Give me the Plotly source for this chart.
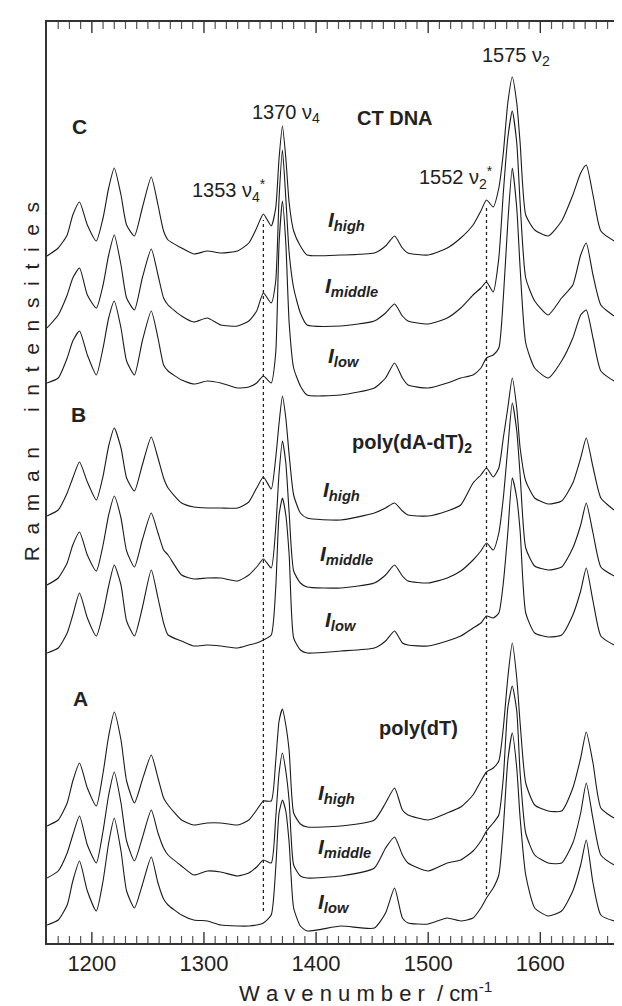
import plotly.graph_objects as go

# Common wavenumber grid (cm^-1)
wavenumber = [1160, 1170, 1178, 1183, 1189,
              1196, 1204, 1210, 1215, 1220,
              1226, 1231, 1238, 1245, 1253,
              1259, 1264, 1268, 1280, 1291,
              1303, 1315, 1330, 1340, 1347,
              1353, 1360, 1364, 1367, 1370,
              1373, 1376, 1380, 1386, 1392,
              1422, 1452, 1462, 1470, 1477,
              1482, 1500, 1517, 1529, 1540,
              1547, 1552, 1558, 1563, 1567,
              1571, 1575, 1579, 1582, 1587,
              1595, 1607, 1619, 1629, 1636,
              1641, 1647, 1654, 1666, 1680]

# Stacked Raman intensities (arbitrary units, offsets included)
ct_high = [687, 695, 708, 728, 741,
           718, 702, 725, 755, 775,
           748, 718, 707, 735, 766,
           738, 712, 703, 695, 689,
           692, 690, 692, 700, 715,
           729, 717, 735, 785, 817,
           785, 740, 712, 697, 688,
           688, 690, 697, 707, 695,
           690, 688, 695, 705, 718,
           732, 743, 736, 755, 790,
           840, 866, 840, 800, 728,
           713, 707, 722, 748, 770,
           778, 748, 712, 702, 695]
ct_middle = [615, 628, 648, 665, 675,
             648, 635, 658, 688, 708,
             678, 645, 633, 665, 694,
             668, 645, 638, 627, 621,
             625, 618, 617, 622, 632,
             650, 640, 662, 745, 793,
             745, 690, 655, 630, 618,
             617, 622, 630, 639, 627,
             622, 619, 625, 635, 648,
             655, 661, 651, 685, 750,
             805, 832, 800, 740, 665,
             642, 628, 645, 658, 688,
             700, 668, 638, 627, 622]
ct_low = [560, 565, 585, 602, 612,
          588, 568, 595, 625, 642,
          615, 582, 568, 602, 632,
          605, 578, 572, 563, 559,
          562, 560, 555, 556, 560,
          567, 560, 590, 700, 742,
          700, 620, 575, 557, 548,
          548, 555, 565, 580, 565,
          558, 555, 560, 565, 568,
          575, 585, 588, 595, 645,
          720, 775, 735, 675, 600,
          575, 565, 582, 605, 628,
          633, 605, 572, 562, 558]
at_high = [427, 433, 450, 465, 481,
           461, 443, 467, 497, 515,
           495, 465, 452, 478, 506,
           485, 465, 455, 440, 436,
           435, 435, 435, 441, 455,
           466, 454, 485, 520, 547,
           525, 488, 448, 430, 425,
           423, 430, 435, 440, 432,
           428, 427, 432, 438, 460,
           468, 475, 466, 475, 505,
           535, 565, 535, 495, 462,
           445, 439, 442, 460, 485,
           505, 476, 445, 433, 427]
at_middle = [358, 365, 380, 398, 411,
             388, 372, 398, 428, 447,
             425, 392, 376, 403, 430,
             410, 393, 388, 368, 364,
             365, 365, 362, 368, 376,
             384, 375, 415, 470, 502,
             480, 430, 372, 360, 356,
             355, 360, 368, 378, 367,
             362, 360, 365, 372, 383,
             392, 400, 393, 410, 445,
             495, 540, 512, 468, 395,
             377, 373, 376, 395, 418,
             440, 410, 376, 367, 362]
at_low = [290, 295, 310, 328, 350,
          325, 307, 330, 357, 378,
          358, 322, 307, 335, 373,
          345, 320, 308, 302, 297,
          298, 297, 295, 298, 300,
          303, 308, 355, 428, 445,
          428, 388, 305, 293, 290,
          292, 295, 302, 312, 300,
          298, 297, 302, 307, 315,
          320, 327, 325, 330, 360,
          410, 465, 445, 412, 330,
          310, 306, 308, 328, 352,
          375, 342, 307, 298, 295]
t_high = [117, 123, 140, 162, 180,
          155, 137, 170, 207, 231,
          203, 162, 140, 163, 188,
          165, 145, 138, 123, 118,
          120, 120, 118, 123, 133,
          142, 142, 182, 222, 234,
          218, 192, 130, 119, 116,
          117, 123, 140, 155, 133,
          128, 123, 130, 136, 148,
          162, 171, 175, 182, 215,
          265, 300, 265, 220, 160,
          138, 132, 132, 155, 185,
          211, 180, 135, 125, 122]
t_middle = [65, 72, 90, 108, 127,
            98, 80, 112, 148, 171,
            140, 102, 82, 105, 133,
            110, 95, 88, 77, 68,
            72, 71, 67, 70, 76,
            83, 80, 125, 170, 190,
            172, 142, 78, 67, 65,
            67, 75, 95, 106, 88,
            80, 72, 80, 83, 92,
            102, 112, 120, 128, 165,
            235, 257, 232, 170, 110,
            88, 80, 80, 100, 130,
            160, 124, 88, 78, 72]
t_low = [18, 23, 38, 62, 82,
         52, 32, 62, 100, 125,
         92, 52, 35, 58, 86,
         60, 44, 38, 28, 23,
         22, 18, 17, 17, 18,
         20, 28, 75, 130, 143,
         132, 100, 35, 17, 12,
         17, 15, 30, 55, 25,
         20, 19, 25, 22, 25,
         35, 45, 55, 68, 115,
         182, 210, 175, 125, 68,
         35, 27, 32, 52, 78,
         103, 60, 28, 22, 20]

series = [ct_high, ct_middle, ct_low, at_high, at_middle, at_low,
          t_high, t_middle, t_low]

# axis tick values (cm^-1)
major_ticks = [1200, 1300, 1400, 1500, 1600]
minor_ticks = [v for v in range(1170, 1680, 10) if v not in major_ticks]

# marker band positions (cm^-1) for dotted guide lines
guide_bands = [1353, 1552]

FONT = "Liberation Sans, Arial, Helvetica, sans-serif"
INK = "#222222"
XRANGE = [1160, 1680]
YRANGE = [0, 921]

fig = go.Figure()
for ys in series:
    fig.add_trace(go.Scatter(x=wavenumber, y=ys, mode="lines",
                             line=dict(color="#1a1a1a", width=1.1,
                                       shape="spline", smoothing=0.55),
                             hoverinfo="skip"))

# inward tick marks on bottom and top axes, placed with the x scale
for vals, length, color, width in ((minor_ticks, 7, "#555555", 1.2),
                                   (major_ticks, 11, "#333333", 1.4)):
    for v in vals:
        fig.add_shape(type="line", xref="x", yref="paper", x0=v, x1=v,
                      y0=0, y1=length / 921.0, layer="above",
                      line=dict(color=color, width=width))
        fig.add_shape(type="line", xref="x", yref="paper", x0=v, x1=v,
                      y0=1, y1=1 - length / 921.0, layer="above",
                      line=dict(color=color, width=width))

# dotted guide lines
fig.add_shape(type="line", x0=guide_bands[0], x1=guide_bands[0], y0=32, y1=723,
              xref="x", yref="y", line=dict(color="#222", width=1.3, dash="dot"))
fig.add_shape(type="line", x0=guide_bands[1], x1=guide_bands[1], y0=48, y1=738,
              xref="x", yref="y", line=dict(color="#222", width=1.3, dash="dot"))

def ann(text, x, y, size=21, xanchor="center", yanchor="middle"):
    fig.add_annotation(text=text, x=x, y=y, xref="x", yref="y", showarrow=False,
                       xanchor=xanchor, yanchor=yanchor,
                       font=dict(family=FONT, size=size, color=INK))

# panel letters
ann("<b>C</b>", 1189, 817, 21)
ann("<b>B</b>", 1188.5, 529, 21)
ann("<b>A</b>", 1190, 245, 21)
# sample names
ann("<b>CT DNA</b>", 1470, 825, 20)
ann("<b>poly(dA-dT)<sub>2</sub></b>", 1485.5, 500, 20)
ann("<b>poly(dT)</b>", 1491, 215, 20)
# band labels
ann("1370 ν<sub>4</sub>", 1373.5, 830, 20)
ann("1575 ν<sub>2</sub>", 1578, 887, 20)
ann("1353 ν<sub>4</sub><sup>*</sup>", 1322, 753, 20)
ann("1552 ν<sub>2</sub><sup>*</sup>", 1525, 766, 20)

# intensity labels
ilabels = [("high", 1409, 722), ("middle", 1406, 656), ("low", 1409, 586),
           ("high", 1404.5, 452), ("middle", 1402, 388), ("low", 1406, 322),
           ("high", 1400, 149), ("middle", 1400, 95), ("low", 1400, 40)]
for sub, xx, yy in ilabels:
    ann("<b><i>I<sub>%s</sub></i></b>" % sub, xx, yy, 21, xanchor="left")

nb = "\u00a0"
xtitle = nb.join("Wavenumber") + nb * 2 + "/" + nb + "cm<sup>-1</sup>"
ytitle = (nb * 2).join("Raman") + nb * 6 + (nb * 2).join("intensities")

fig.add_annotation(text=xtitle, x=0.547, y=-0.053, xref="paper", yref="paper",
                   showarrow=False, xanchor="center", yanchor="middle",
                   font=dict(family=FONT, size=22, color=INK))
fig.add_annotation(text=ytitle, x=-0.027, y=0.609, xref="paper", yref="paper",
                   showarrow=False, xanchor="center", yanchor="middle", textangle=-90,
                   font=dict(family=FONT, size=21, color=INK))

fig.update_layout(
    width=622, height=1006,
    margin=dict(l=39, r=0, t=14, b=71),
    plot_bgcolor="white", paper_bgcolor="white",
    showlegend=False,
    font=dict(family=FONT, color=INK),
    xaxis=dict(range=XRANGE, tickmode="array", tickvals=major_ticks,
               ticktext=[str(v) for v in major_ticks],
               ticks="", showline=True, linecolor="#333", linewidth=1.5,
               mirror=True, showgrid=False, zeroline=False,
               tickfont=dict(family=FONT, size=22, color=INK)),
    yaxis=dict(range=YRANGE, showticklabels=False, ticks="",
               showline=True, linecolor="#333", linewidth=1.5, mirror=False,
               showgrid=False, zeroline=False),
)

fig.write_html("out.html")
